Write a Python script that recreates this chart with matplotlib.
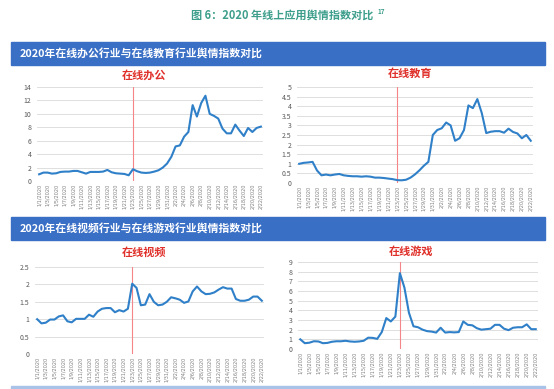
import numpy as np
import matplotlib.pyplot as plt
from matplotlib.patches import Rectangle

plt.rcParams['font.family'] = ['Noto Sans CJK SC', 'DejaVu Sans']

# ---- data: daily index, 1/1/2020 .. 2/22/2020 ----
days = [f"1/{d}/2020" for d in range(1, 32)] + [f"2/{d}/2020" for d in range(1, 23)]
mark_day = "1/23/2020"

office = [1.0, 1.25, 1.25, 1.1, 1.15, 1.35, 1.4, 1.4, 1.5, 1.5,
          1.3, 1.1, 1.35, 1.35, 1.35, 1.4, 1.65, 1.3, 1.15, 1.1,
          1.05, 0.85, 1.75, 1.45, 1.25, 1.2, 1.25, 1.4, 1.6, 2.0,
          2.6, 3.6, 5.15, 5.3, 6.6, 7.3, 11.3, 9.6, 11.6, 12.7,
          10.0, 9.7, 9.3, 7.8, 7.1, 7.1, 8.4, 7.5, 6.7, 7.9,
          7.3, 7.9, 8.1]

education = [1.0, 1.05, 1.07, 1.1, 0.65, 0.4, 0.44, 0.4, 0.44, 0.47,
             0.4, 0.37, 0.35, 0.35, 0.33, 0.35, 0.33, 0.28, 0.28, 0.26,
             0.23, 0.2, 0.15, 0.14, 0.17, 0.28, 0.45, 0.66, 0.9, 1.1,
             2.5, 2.76, 2.85, 3.15, 3.0, 2.2, 2.33, 2.76, 4.04, 3.9,
             4.37, 3.64, 2.6, 2.67, 2.7, 2.7, 2.62, 2.83, 2.66, 2.58,
             2.33, 2.5, 2.2]

video = [1.0, 0.88, 0.9, 0.99, 0.99, 1.08, 1.11, 0.94, 0.91, 1.01,
         1.01, 1.01, 1.13, 1.07, 1.22, 1.3, 1.32, 1.32, 1.2, 1.26,
         1.22, 1.3, 2.02, 1.9, 1.4, 1.42, 1.72, 1.5, 1.4, 1.42,
         1.5, 1.63, 1.6, 1.56, 1.47, 1.51, 1.8, 1.94, 1.8, 1.72,
         1.73, 1.77, 1.85, 1.92, 1.88, 1.88, 1.58, 1.53, 1.53, 1.56,
         1.65, 1.65, 1.53]

games = [1.0, 0.6, 0.65, 0.8, 0.78, 0.6, 0.63, 0.75, 0.8, 0.8,
         0.85, 0.78, 0.75, 0.78, 0.85, 1.17, 1.15, 1.05, 1.75, 3.2,
         2.85, 3.35, 7.85, 6.35, 3.75, 2.35, 2.25, 2.0, 1.85, 1.8,
         1.7, 2.2, 1.7, 1.75, 1.72, 1.75, 2.85, 2.5, 2.45, 2.15,
         2.0, 2.05, 2.1, 2.5, 2.5, 2.1, 1.95, 2.2, 2.25, 2.25,
         2.55, 2.05, 2.05]

W, H = 554, 389
BLUE_LINE = '#2f80c8'
BANNER = '#3a6fc6'
RED = '#e0302a'

fig = plt.figure(figsize=(W / 100, H / 100), dpi=100)
bg = fig.add_axes([0, 0, 1, 1])
bg.set_xlim(0, W)
bg.set_ylim(H, 0)
bg.axis('off')

# header + banners
bg.text(282, 15, '图 6：2020 年线上应用舆情指数对比', color='#3d9e8c',
        fontsize=8, fontweight='bold', ha='center', va='center')
bg.text(377, 11, '17', color='#3d9e8c', fontsize=4.5, fontweight='bold',
        ha='left', va='center')
for top, txt in [(42, '2020年在线办公行业与在线教育行业舆情指数对比'),
                 (217, '2020年在线视频行业与在线游戏行业舆情指数对比')]:
    bg.add_patch(Rectangle((11, top), 534, 23, color=BANNER))
    bg.text(20, top + 11.5, txt, color='white', fontsize=7.8,
            fontweight='bold', ha='left', va='center')
bg.add_patch(Rectangle((11, 386), 534, 3, color='#a9c3e8'))

x = np.arange(len(days))
mark_idx = days.index(mark_day)


def panel(left, right, top, bottom, vals, ymax, ystep, name, tx, ty):
    ax = fig.add_axes([left / W, 1 - bottom / H, (right - left) / W, (bottom - top) / H])
    ax.plot(x, vals, color=BLUE_LINE, lw=1.5, solid_joinstyle='round', zorder=3)
    ax.axvline(mark_idx, color='#f4868a', lw=0.8, zorder=2)
    ax.set_xlim(-0.5, len(days) - 0.5)
    ax.set_ylim(0, ymax)
    ax.set_yticks(np.arange(0, ymax + ystep / 2, ystep))
    ax.yaxis.set_major_formatter('{x:g}')
    ax.set_xticks(x[::2])
    ax.set_xticklabels(days[::2], rotation=90, fontsize=3.6, color='#7f7f7f',
                       family='DejaVu Sans')
    ax.tick_params(axis='y', labelsize=5, labelcolor='#595959', length=0, pad=4)
    ax.tick_params(axis='x', length=0, pad=2)
    ax.grid(axis='y', color='#d9d9d9', lw=0.6)
    ax.set_axisbelow(True)
    for s in ax.spines.values():
        s.set_visible(False)
    bg.text(tx, ty, name, color=RED, fontsize=8, fontweight='bold',
            ha='center', va='center')
    return ax


panel(37, 263, 87, 181, office, 14, 2, '在线办公', 144, 75)
panel(297, 533, 87, 183, education, 5, 0.5, '在线教育', 410, 73)
panel(35, 264, 267, 354, video, 2.5, 0.5, '在线视频', 144, 252)
panel(298, 538, 262, 349, games, 9, 1, '在线游戏', 411, 251)

fig.savefig('out.png', dpi=100)
